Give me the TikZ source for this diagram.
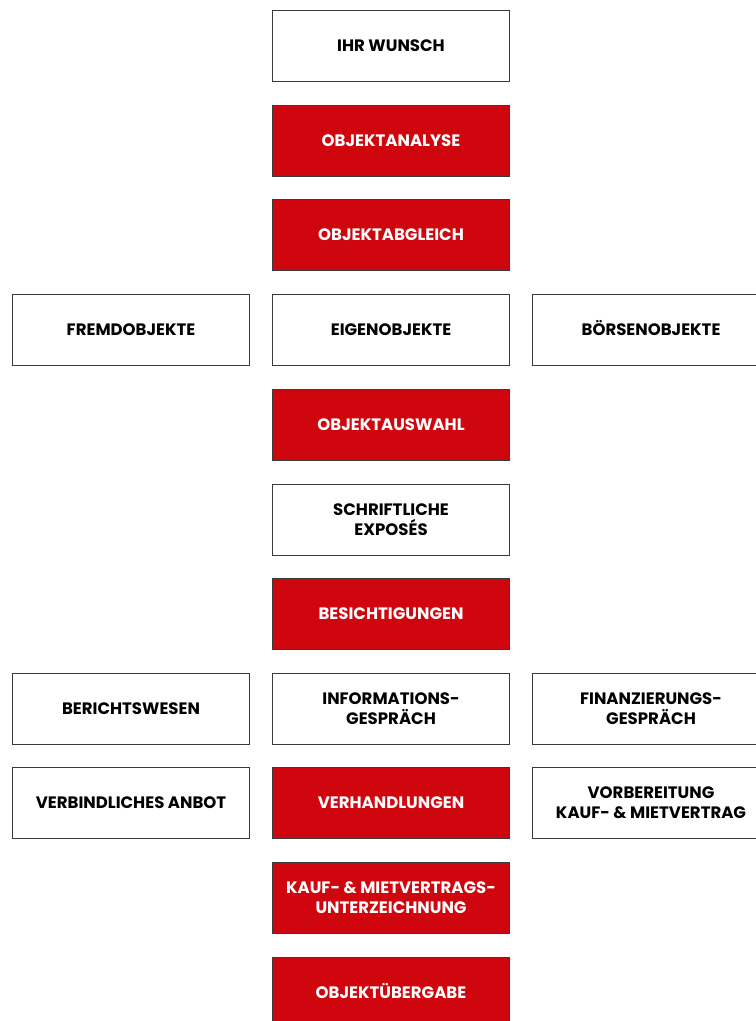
\documentclass[tikz,border=0pt]{standalone}
\usepackage{fontspec}
\setmainfont{Poppins}
\definecolor{boxred}{HTML}{D0060E}
\definecolor{boxline}{HTML}{3A3A3A}
\begin{document}
\begin{tikzpicture}[x=0.75pt,y=-0.75pt,
  box/.style={draw=boxline,line width=0.8pt,minimum width=237*0.75pt,minimum height=71*0.75pt,
    inner sep=0pt,align=center,font=\fontsize{12.4pt}{15pt}\selectfont\bfseries,anchor=north west},
  wbox/.style={box,fill=white,text=black},
  rbox/.style={box,fill=boxred,text=white}]
\useasboundingbox (0,0) rectangle (756,1021);
\clip (0,0) rectangle (756,1021);
\node[wbox] (wunsch) at (272,10) {IHR WUNSCH};
\node[rbox] (analyse) at (272,105) {OBJEKTANALYSE};
\node[rbox] (abgleich) at (272,199) {OBJEKTABGLEICH};
\node[wbox] (fremd) at (12,294) {FREMDOBJEKTE};
\node[wbox] (eigen) at (272,294) {EIGENOBJEKTE};
\node[wbox] (boerse) at (532,294) {B\smash{Ö}RSENOBJEKTE};
\node[rbox] (auswahl) at (272,389) {OBJEKTAUSWAHL};
\node[wbox] (expose) at (272,484) {SCHRIFTLICHE\\EXPOSÉS};
\node[rbox] (besicht) at (272,578) {BESICHTIGUNGEN};
\node[wbox] (bericht) at (12,673) {BERICHTSWESEN};
\node[wbox] (info) at (272,673) {INFORMATIONS-\\GESPRÄCH};
\node[wbox] (finanz) at (532,673) {FINANZIERUNGS-\\GESPRÄCH};
\node[wbox] (anbot) at (12,767) {VERBINDLICHES ANBOT};
\node[rbox] (verhandl) at (272,767) {VERHANDLUNGEN};
\node[wbox] (vorber) at (532,767) {VORBEREITUNG\\KAUF- \& MIETVERTRAG};
\node[rbox] (unterz) at (272,862) {KAUF- \& MIETVERTRAGS-\\UNTERZEICHNUNG};
\node[rbox] (uebergabe) at (272,957) {OBJEKT\smash{Ü}BERGABE};
\end{tikzpicture}
\end{document}
